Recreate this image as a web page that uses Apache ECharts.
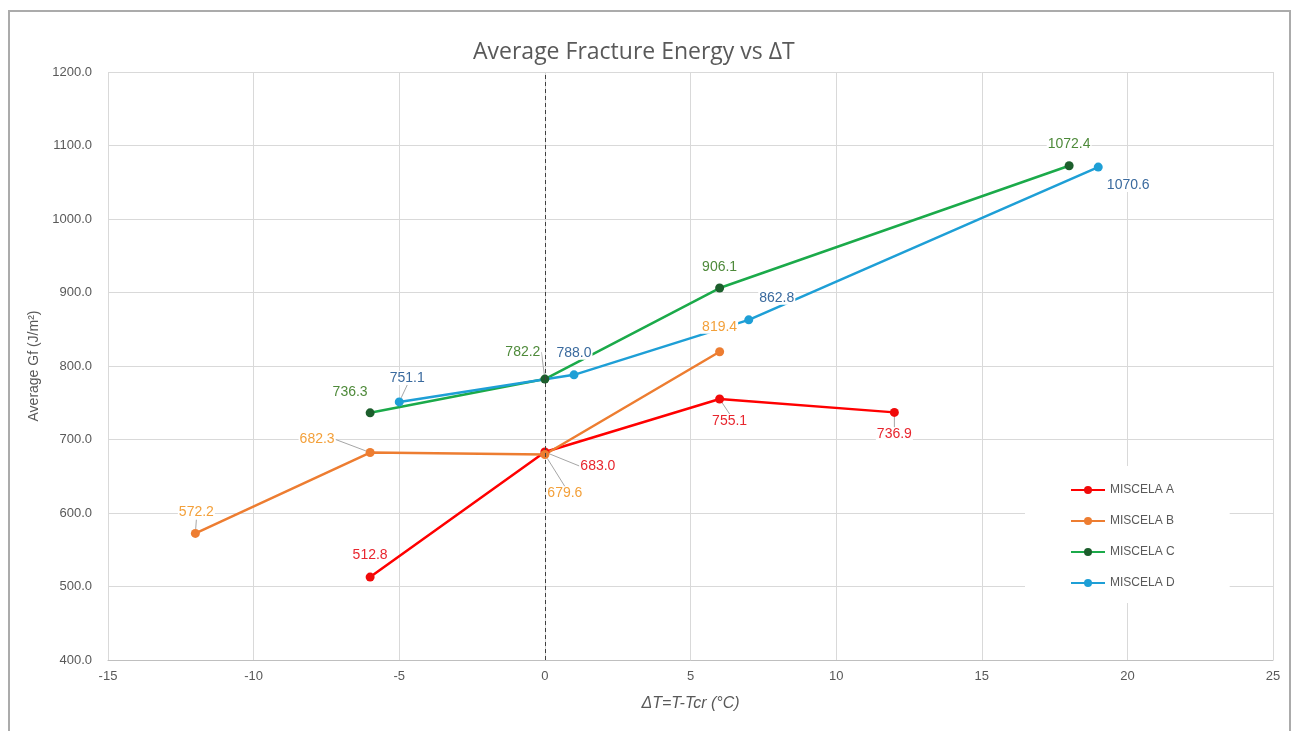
<!DOCTYPE html>
<html>
<head>
<meta charset="utf-8">
<title>Average Fracture Energy vs ΔT</title>
<script src="https://cdn.jsdelivr.net/npm/echarts@6/dist/echarts.min.js"></script>
<style>
  html, body { margin: 0; padding: 0; background: #ffffff; }
  #chart { width: 1295px; height: 731px; }
</style>
</head>
<body>
<div id="chart"></div>
<script>
// ΔT values (°C) and average fracture energy Gf (J/m²) per mixture
const seriesNames = ['MISCELA A', 'MISCELA B', 'MISCELA C', 'MISCELA D'];

const dtA = [-6, 0, 6, 12];
const gfA = [512.8, 683.0, 755.1, 736.9];

const dtB = [-12, -6, 0, 6];
const gfB = [572.2, 682.3, 679.6, 819.4];

const dtC = [-6, 0, 6, 18];
const gfC = [736.3, 782.2, 906.1, 1072.4];

const dtD = [-5, 1, 7, 19];
const gfD = [751.1, 788.0, 862.8, 1070.6];

const xTicks = [-15, -10, -5, 0, 5, 10, 15, 20, 25];
const yTicks = [400, 500, 600, 700, 800, 900, 1000, 1100, 1200];

// label placement (offset of label centre from its point, px) and leader-line flags
const labelOffsets = [
  [[0, -22], [53, 14], [10, 22], [0, 22]],
  [[1, -21], [-53, -13], [20, 39], [0, -25]],
  [[-20, -21], [-22, -27], [0, -21], [0, -22]],
  [[8, -24], [0, -22], [28, -22], [30, 18]]
];
const leaderFlags = [
  [false, true, true, true],
  [true, true, true, false],
  [false, true, false, false],
  [true, false, false, false]
];

const lineColors = ['#FF0000', '#ED7D31', '#1BAA4A', '#1E9FD6'];
const markerColors = ['#F00A0A', '#ED7D31', '#1C5E2C', '#1E9FD6'];
const labelColors = ['#E8262E', '#F3A03A', '#4E8A3A', '#3A6A9E'];

const xs = [dtA, dtB, dtC, dtD];
const ys = [gfA, gfB, gfC, gfD];

const baseFont = 'Liberation Sans, Arial, sans-serif';

const series = seriesNames.map((name, s) => {
  const data = xs[s].map((x, i) => ({
    value: [x, ys[s][i]],
    labelLine: { show: leaderFlags[s][i] }
  }));
  const item = {
    name: name,
    type: 'line',
    data: data,
    symbol: 'circle',
    symbolSize: 9,
    z: 2,
    lineStyle: { color: lineColors[s], width: 2.5 },
    itemStyle: { color: markerColors[s] },
    label: {
      show: true,
      position: 'inside',
      formatter: p => p.value[1].toFixed(1),
      color: labelColors[s],
      fontFamily: baseFont,
      fontSize: 14,
      backgroundColor: '#ffffff',
      padding: [0, 1]
    },
    labelLine: {
      show: false,
      smooth: false,
      lineStyle: { color: '#a6a6a6', width: 1 }
    },
    labelLayout: p => ({ dx: labelOffsets[p.seriesIndex][p.dataIndex][0], dy: labelOffsets[p.seriesIndex][p.dataIndex][1] }),
    emphasis: { disabled: true },
    animation: false
  };
  if (s === 0) {
    // dashed reference line at ΔT = 0
    item.markLine = {
      silent: true,
      symbol: 'none',
      label: { show: false },
      lineStyle: { color: '#404040', type: [4, 3], width: 1 },
      data: [{ xAxis: 0 }]
    };
  }
  return item;
});

const chart = echarts.init(document.getElementById('chart'), null, { renderer: 'canvas' });
chart.setOption({
  backgroundColor: '#ffffff',
  animation: false,
  title: {
    text: 'Average Fracture Energy vs ΔT',
    left: 468,
    top: 36,
    textStyle: { color: '#595959', fontSize: 23, fontWeight: 'normal', fontFamily: 'Open Sans, Liberation Sans, sans-serif' }
  },
  graphic: [{
    type: 'rect',
    shape: { x: 9, y: 11, width: 1281, height: 740 },
    style: { fill: 'none', stroke: '#ababab', lineWidth: 2 },
    silent: true,
    z: -1
  }],
  grid: { left: 108, right: 22, top: 72, bottom: 71, containLabel: false },
  legend: {
    orient: 'vertical',
    left: 1025,
    top: 466,
    padding: [18, 55, 14, 45],
    backgroundColor: '#ffffff',
    itemGap: 19,
    itemWidth: 34,
    itemHeight: 10,
    data: seriesNames,
    textStyle: { color: '#595959', fontSize: 12, fontFamily: baseFont }
  },
  xAxis: {
    type: 'value',
    min: xTicks[0],
    max: xTicks[xTicks.length - 1],
    interval: 5,
    name: 'ΔT=T-Tcr (°C)',
    nameLocation: 'middle',
    nameGap: 36,
    nameTextStyle: { color: '#595959', fontSize: 16, fontStyle: 'italic', fontFamily: baseFont },
    axisLine: { show: true, lineStyle: { color: '#bfbfbf' } },
    axisTick: { show: false },
    axisLabel: { color: '#595959', fontSize: 13, margin: 10, fontFamily: baseFont },
    splitLine: { show: true, lineStyle: { color: '#d9d9d9' } }
  },
  yAxis: {
    type: 'value',
    min: yTicks[0],
    max: yTicks[yTicks.length - 1],
    interval: 100,
    name: 'Average Gf (J/m²)',
    nameLocation: 'middle',
    nameGap: 65,
    nameTextStyle: { color: '#595959', fontSize: 14, fontFamily: baseFont },
    axisLine: { show: false },
    axisTick: { show: false },
    axisLabel: { color: '#595959', fontSize: 13, margin: 16, formatter: v => v.toFixed(1), fontFamily: baseFont },
    splitLine: { show: true, lineStyle: { color: '#d9d9d9' } }
  },
  series: series
});
</script>
</body>
</html>
